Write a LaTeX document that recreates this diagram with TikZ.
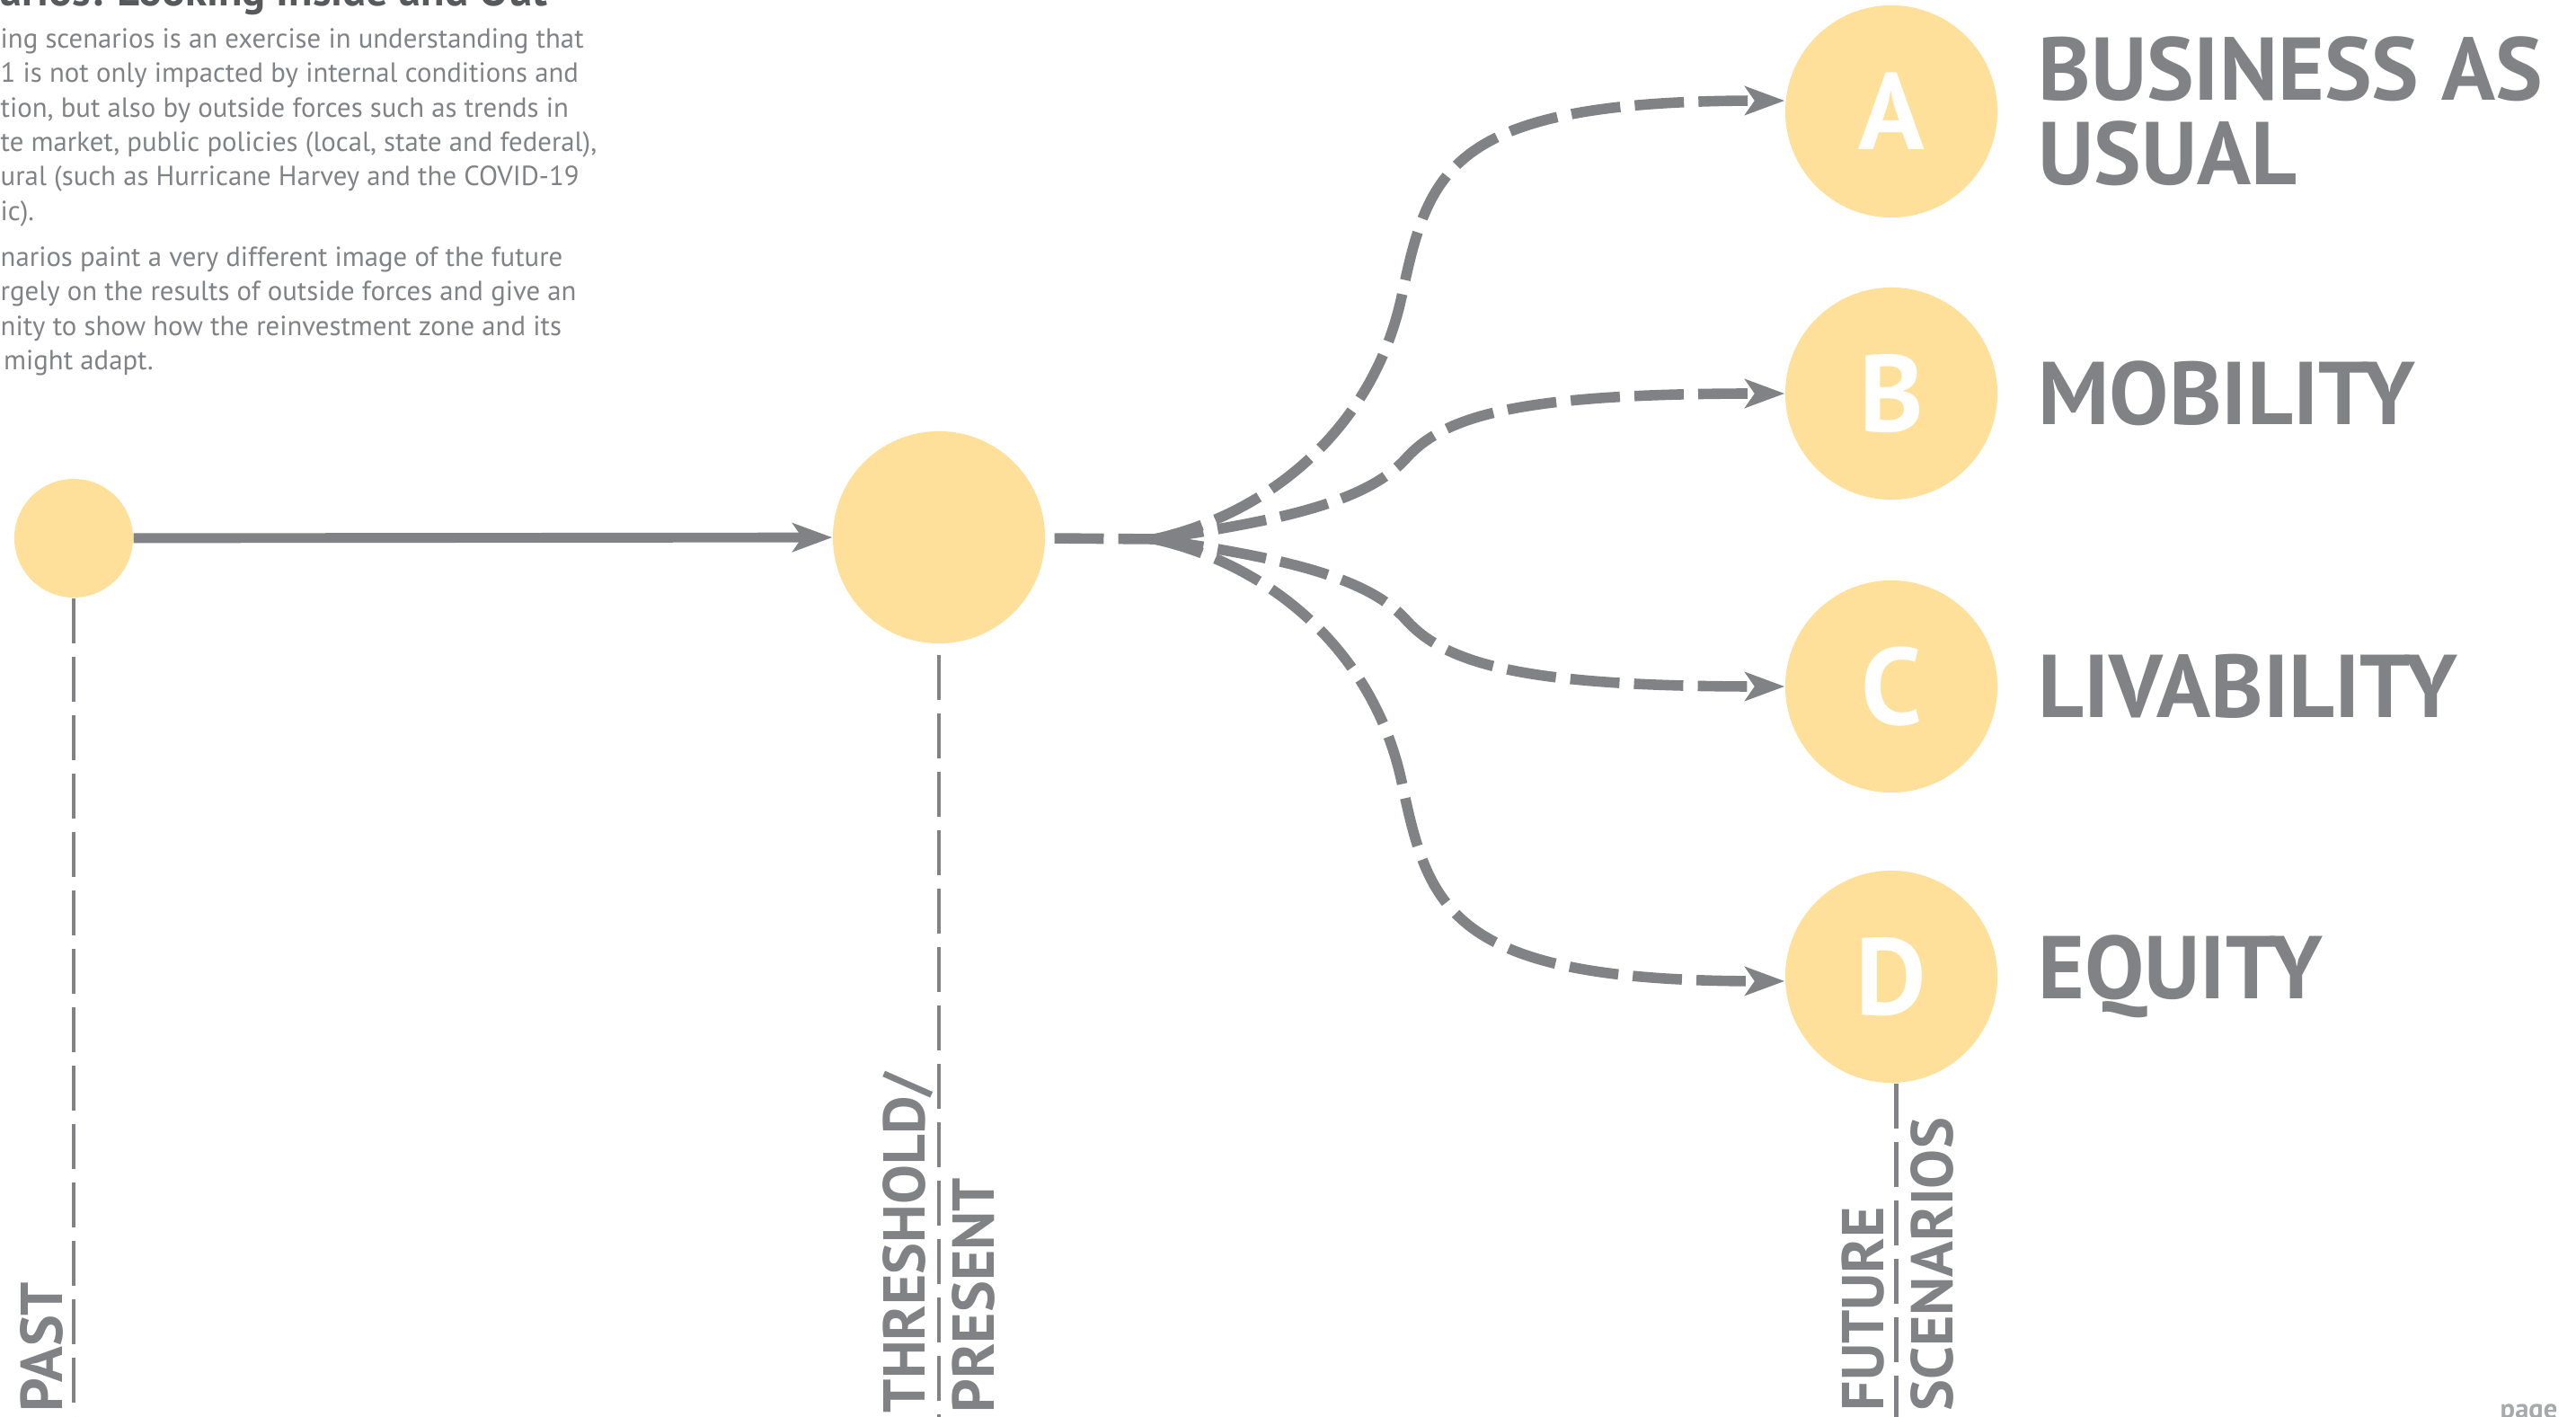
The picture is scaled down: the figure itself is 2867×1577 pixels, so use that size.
\documentclass[tikz,border=0pt]{standalone}
\usepackage{fontspec}
\setmainfont{PT Sans}
\usetikzlibrary{arrows.meta, positioning}
\definecolor{scgray}{HTML}{808285}
\definecolor{scyellow}{HTML}{FEE09B}
\definecolor{titlegray}{HTML}{58595B}
\definecolor{pagegray}{HTML}{A7A9AC}

\begin{document}
\begin{tikzpicture}[
    x=0.01cm, y=-0.01cm,
    moment/.style={circle, fill=scyellow, inner sep=0pt, minimum size=2.36cm},
    scenario/.style={moment, text=white, font=\fontsize{34.5}{34.5}\selectfont\bfseries},
    timeline/.style={scgray, line width=1.4pt, dash pattern=on 14.2pt off 4.3pt},
    arrow/.style={-{Stealth[length=12.5pt, width=9pt, inset=3pt]}, scgray, line width=3.1pt},
    branch/.style={arrow, line width=3.3pt, dash pattern=on 15.6pt off 4.6pt},
    vlabel/.style={rotate=90, anchor=base west, inner sep=0pt, text=scgray, font=\fontsize{18.7}{18.7}\selectfont\bfseries},
    outcome/.style={inner sep=0pt, text=scgray, font=\fontsize{28.2}{26.7}\selectfont\bfseries, align=left},
    body/.style={inner sep=0pt, text=scgray, font=\fontsize{8.75}{10.9}\selectfont, align=left}
]
\useasboundingbox (0,0) rectangle (2867,1577);

% Intro text (cut at the page edge)
\node[inner sep=0pt, anchor=base west, text=titlegray, font=\fontsize{13.8}{13.8}\selectfont\bfseries] (title) at (0,7) {arios: Looking Inside and Out};
\node[body, anchor=north west] (intro) at (0,31) {ing scenarios is an exercise in understanding that\\
1 is not only impacted by internal conditions and\\
tion, but also by outside forces such as trends in\\
te market, public policies (local, state and federal),\\
ural (such as Hurricane Harvey and the COVID-19\\
ic).\\[3.7pt]
narios paint a very different image of the future\\
rgely on the results of outside forces and give an\\
nity to show how the reinvestment zone and its\\
\hspace*{1pt}might adapt.};

% Moments on the timeline
\node[moment, minimum size=1.32cm] (past) at (82,599) {};
\node[moment] (present) at (1045,598) {};
\node[scenario] (sA) at (2105,124) {A};
\node[scenario] (sB) at (2105,438) {B};
\node[scenario] (sC) at (2105,764) {C};
\node[scenario] (sD) at (2105,1087) {D};

\node[outcome, right=0.44cm of sA] (usual) {BUSINESS AS\\USUAL};
\node[outcome, right=0.44cm of sB] (mobility) {MOBILITY};
\node[outcome, right=0.44cm of sC] (livability) {LIVABILITY};
\node[outcome, right=0.44cm of sD] (equity) {EQUITY};

% Past to present
\draw[arrow] (past) -- (present);

% Branching into the scenarios
\coordinate (fan) at (1285,600);
\draw[branch, -, shorten <=2.8pt] (present) -- (fan);
\draw[branch] (fan) .. controls (1420,570) and (1530,470) .. (1560,330) .. controls (1590,190) and (1610,112) .. ([yshift=3.4pt]sA.west);
\draw[branch] (fan) .. controls (1420,580) and (1520,560) .. (1565,510) .. controls (1610,460) and (1700,438) .. (sB.west);
\draw[branch] (fan) .. controls (1420,620) and (1520,640) .. (1565,690) .. controls (1610,740) and (1700,764) .. (sC.west);
\draw[branch] (fan) .. controls (1420,630) and (1530,730) .. (1560,870) .. controls (1590,1010) and (1610,1092) .. ([yshift=-1.4pt]sD.west);

% Dashed drop lines and their labels
\coordinate (bottom) at (0,1580);
\draw[timeline] (past.south) -- (past.south |- bottom);
\draw[timeline, shorten <=3.4pt] (present.south) -- (present.south |- bottom);
\draw[timeline] ([xshift=1.5pt]sD.south) -- ([xshift=1.5pt]sD.south |- bottom);

\node[vlabel] (pastlbl) at (69,1572) {PAST};
\node[vlabel] (thresholdlbl) at (1029,1573) {THRESHOLD/};
\node[vlabel] (presentlbl) at (1106,1573) {PRESENT};
\node[vlabel] (futurelbl) at (2096,1571) {FUTURE};
\node[vlabel] (scenarioslbl) at (2173,1571) {SCENARIOS};

\node[anchor=base west, inner sep=0pt, text=pagegray, font=\fontsize{8.7}{8.7}\selectfont\bfseries] (pageno) at (2782,1578) {page};
\end{tikzpicture}
\end{document}
